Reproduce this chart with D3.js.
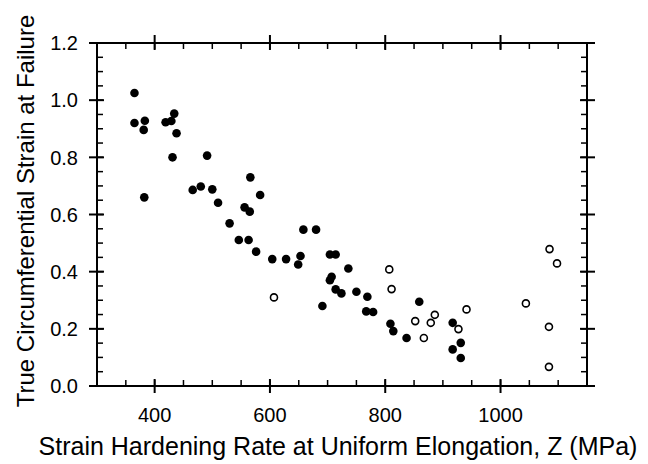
<!DOCTYPE html>
<html>
<head>
<meta charset="utf-8">
<script src="https://cdn.jsdelivr.net/npm/d3@7"></script>
<style>
    body { margin: 0; background: #fff; }
    svg text { font-family: "Liberation Sans", Arial, sans-serif; fill: #000; }
</style>
</head>
<body>
<div id="chart"></div>
<script>
// filled symbols
const filledZ = [365, 365, 383, 381, 382, 419, 429, 434, 438, 431, 491, 466, 480, 500, 510, 530,
    556, 565, 566, 583, 546, 563, 576, 604, 628, 649, 653, 658, 680, 704, 714, 707, 704,
    714, 724, 691, 736, 750, 769, 767, 779, 809, 814, 837, 859, 917, 917, 931, 931];
const filledStrain = [1.025, 0.92, 0.928, 0.896, 0.66, 0.923, 0.927, 0.953, 0.884, 0.80, 0.806, 0.686, 0.698, 0.688, 0.641, 0.569,
    0.625, 0.61, 0.73, 0.668, 0.511, 0.511, 0.47, 0.444, 0.444, 0.425, 0.455, 0.547, 0.547, 0.46, 0.46, 0.382, 0.37,
    0.338, 0.324, 0.28, 0.411, 0.33, 0.312, 0.261, 0.259, 0.218, 0.192, 0.168, 0.295, 0.221, 0.128, 0.151, 0.098];

// open symbols
const openZ = [607, 807, 811, 852, 867, 879, 886, 927, 941, 1044, 1085, 1098, 1084, 1084];
const openStrain = [0.31, 0.408, 0.339, 0.227, 0.168, 0.221, 0.249, 0.199, 0.268, 0.289, 0.479, 0.429, 0.207, 0.067];

const xTicks = [400, 600, 800, 1000];
const yTicks = [0.0, 0.2, 0.4, 0.6, 0.8, 1.0, 1.2];

const width = 648, height = 464;
const margin = { left: 97, right: 61, top: 43, bottom: 78 };
const plotW = width - margin.left - margin.right;
const plotH = height - margin.top - margin.bottom;

const svg = d3.select('#chart').append('svg')
    .attr('width', width)
    .attr('height', height);

const x = d3.scaleLinear().domain([300, 1150]).range([margin.left, margin.left + plotW]);
const y = d3.scaleLinear().domain([0, 1.2]).range([margin.top + plotH, margin.top]);

const xMinor = d3.range(300, 1151, 50);
const yMinor = d3.range(0, 1.2001, 0.05);

// frame
svg.append('rect')
    .attr('x', margin.left).attr('y', margin.top)
    .attr('width', plotW).attr('height', plotH)
    .attr('fill', 'none').attr('stroke', '#000').attr('stroke-width', 2);

const ticks = svg.append('g').attr('stroke', '#000').attr('stroke-width', 1.5);
const yBot = margin.top + plotH, yTop = margin.top;
const xLeft = margin.left, xRight = margin.left + plotW;

// minor ticks, inside only
xMinor.forEach(v => {
    ticks.append('line').attr('x1', x(v)).attr('x2', x(v)).attr('y1', yBot).attr('y2', yBot - 6);
    ticks.append('line').attr('x1', x(v)).attr('x2', x(v)).attr('y1', yTop).attr('y2', yTop + 6);
});
yMinor.forEach(v => {
    ticks.append('line').attr('y1', y(v)).attr('y2', y(v)).attr('x1', xLeft).attr('x2', xLeft + 6);
    ticks.append('line').attr('y1', y(v)).attr('y2', y(v)).attr('x1', xRight).attr('x2', xRight - 6);
});
// major ticks cross the frame
xTicks.forEach(v => {
    ticks.append('line').attr('x1', x(v)).attr('x2', x(v)).attr('y1', yBot + 7).attr('y2', yBot - 7).attr('stroke-width', 2);
    ticks.append('line').attr('x1', x(v)).attr('x2', x(v)).attr('y1', yTop - 8).attr('y2', yTop + 7).attr('stroke-width', 2);
});
yTicks.forEach(v => {
    ticks.append('line').attr('y1', y(v)).attr('y2', y(v)).attr('x1', xLeft - 8).attr('x2', xLeft + 7).attr('stroke-width', 2);
    ticks.append('line').attr('y1', y(v)).attr('y2', y(v)).attr('x1', xRight + 8).attr('x2', xRight - 7).attr('stroke-width', 2);
});

// tick labels
svg.append('g').selectAll('text')
    .data(xTicks)
    .enter()
    .append('text')
    .attr('x', d => x(d))
    .attr('y', yBot + 36)
    .attr('text-anchor', 'middle')
    .attr('font-size', 20)
    .text(d => d);

svg.append('g').selectAll('text')
    .data(yTicks)
    .enter()
    .append('text')
    .attr('x', xLeft - 19)
    .attr('y', d => y(d) + 7.2)
    .attr('text-anchor', 'end')
    .attr('font-size', 20)
    .text(d => d.toFixed(1));

// axis titles
svg.append('text')
    .attr('x', 338)
    .attr('y', 455)
    .attr('text-anchor', 'middle')
    .attr('font-size', 25)
    .text('Strain Hardening Rate at Uniform Elongation, Z (MPa)');

svg.append('text')
    .attr('transform', 'translate(33.5,' + 211 + ') rotate(-90)')
    .attr('text-anchor', 'middle')
    .attr('font-size', 24)
    .text('True Circumferential Strain at Failure');

// points
const filled = filledZ.map((z, i) => ({ z: z, s: filledStrain[i] }));
const open = openZ.map((z, i) => ({ z: z, s: openStrain[i] }));

svg.append('g').selectAll('circle')
    .data(filled)
    .enter()
    .append('circle')
    .attr('cx', d => x(d.z))
    .attr('cy', d => y(d.s))
    .attr('r', 4.3)
    .attr('fill', '#000');

svg.append('g').selectAll('circle')
    .data(open)
    .enter()
    .append('circle')
    .attr('cx', d => x(d.z))
    .attr('cy', d => y(d.s))
    .attr('r', 3.5)
    .attr('fill', '#fff')
    .attr('stroke', '#000')
    .attr('stroke-width', 1.6);
</script>
</body>
</html>
